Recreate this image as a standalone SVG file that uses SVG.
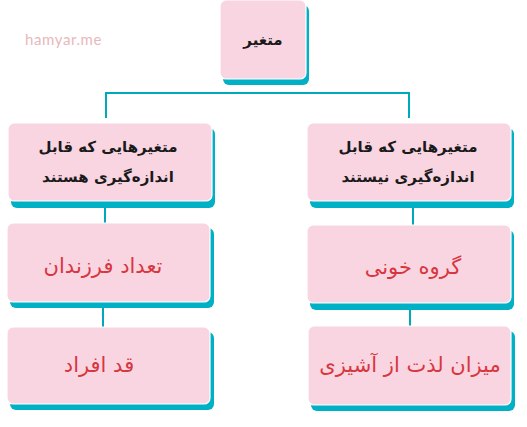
<svg xmlns="http://www.w3.org/2000/svg" width="527" height="427" viewBox="0 0 527 427">
<style>
.sh{fill:#00b0c4}
.bx{fill:#f9d5e2;stroke:#ffffff;stroke-width:1.2}
.t{font-family:"DejaVu Sans",sans-serif;text-anchor:middle;direction:rtl}
.b{font-weight:bold;fill:#1a1a1a;font-size:15px}
.r{fill:#d8363e;font-size:21px}
.ln{stroke:#00a8bc;stroke-width:2;fill:none}
</style>
<rect width="527" height="427" fill="#ffffff"/>
<text x="25" y="45" font-family="Lato,'DejaVu Sans',sans-serif" font-size="15" letter-spacing="0.6" fill="#e8b8bc">hamyar.me</text>
<g id="connectors">
<path class="ln" d="M106 118V93H409V118"/>
<path class="ln" d="M105 205V224"/>
<path class="ln" d="M413 205V226"/>
<path class="ln" d="M103 304V327"/>
<path class="ln" d="M410 305V327"/>
</g>
<g id="n0">
<rect class="sh" x="223" y="5" width="86" height="80" rx="6"/>
<rect class="bx" x="220" y="0" width="86" height="79" rx="6"/>
<text class="t b" x="263" y="45" font-size="16">متغیر</text>
</g>
<g id="n1">
<rect class="sh" x="11" y="128" width="204" height="80" rx="6"/>
<rect class="bx" x="8" y="123" width="204" height="78" rx="6"/>
<text class="t b" x="108" y="152">متغیرهایی که قابل</text>
<text class="t b" x="108" y="182">اندازه‌گیری هستند</text>
</g>
<g id="n2">
<rect class="sh" x="310" y="128" width="204" height="80" rx="6"/>
<rect class="bx" x="307" y="123" width="204" height="78" rx="6"/>
<text class="t b" x="408" y="152">متغیرهایی که قابل</text>
<text class="t b" x="408" y="182">اندازه‌گیری نیستند</text>
</g>
<g id="n3">
<rect class="sh" x="10" y="228" width="204" height="80" rx="6"/>
<rect class="bx" x="7" y="223" width="203" height="79" rx="6"/>
<text class="t r" x="103" y="273">تعداد فرزندان</text>
</g>
<g id="n4">
<rect class="sh" x="310" y="230" width="204" height="80" rx="6"/>
<rect class="bx" x="307" y="225" width="204" height="78" rx="6"/>
<text class="t r" x="413" y="274">گروه خونی</text>
</g>
<g id="n5">
<rect class="sh" x="10" y="332" width="204" height="78" rx="6"/>
<rect class="bx" x="7" y="327" width="203" height="77" rx="6"/>
<text class="t r" x="99" y="372">قد افراد</text>
</g>
<g id="n6">
<rect class="sh" x="311" y="331" width="204" height="80" rx="6"/>
<rect class="bx" x="308" y="326" width="203" height="79" rx="6"/>
<text class="t r" x="410" y="372">میزان لذت از آشیزی</text>
</g>
</svg>
